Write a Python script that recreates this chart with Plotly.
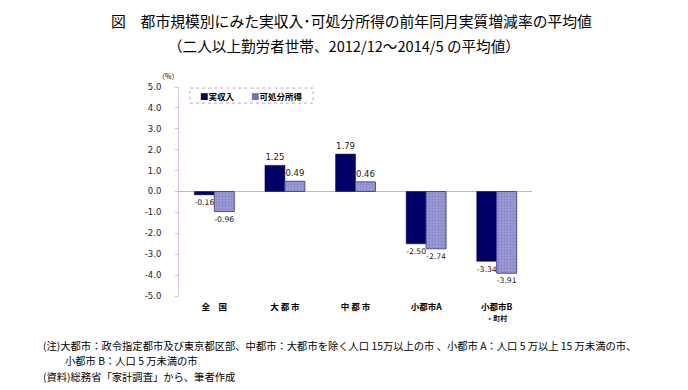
import plotly.graph_objects as go

categories = ["全　国", "大 都 市", "中 都 市", "小都市A", "小都市B<br><span style='font-size:7px'>・町村</span>"]
jisshunyu = [-0.16, 1.25, 1.79, -2.50, -3.34]
kashobun = [-0.96, 0.49, 0.46, -2.74, -3.91]
series_names = ["実収入", "可処分所得"]
y_ticks = [5, 4, 3, 2, 1, 0, -1, -2, -3, -4, -5]

FONT = "Noto Sans CJK JP"
NUMFONT = "Verdana, DejaVu Sans"
DARK = "#000066"
LIGHT = "#8585c8"

fig = go.Figure()
fig.add_trace(go.Bar(
    x=categories, y=jisshunyu, name=series_names[0],
    marker=dict(color=DARK, line=dict(color="#000044", width=0.5)),
    text=[f"{v:.2f}" for v in jisshunyu], textposition="outside",
    textfont=dict(size=8.5, color="#222222", family=NUMFONT),
    cliponaxis=False, showlegend=False,
))
fig.add_trace(go.Bar(
    x=categories, y=kashobun, name=series_names[1],
    marker=dict(color=LIGHT, line=dict(color="#4a4aa0", width=1),
                pattern=dict(shape=".", fgcolor="#6a6ab0", bgcolor="#9a9ad4", size=3, solidity=0.3)),
    text=[f"{v:.2f}" for v in kashobun], textposition="outside",
    textfont=dict(size=8.5, color="#222222", family=NUMFONT),
    cliponaxis=False, showlegend=False,
))

legend_text = (f"<span style='color:{DARK}'>■</span>{series_names[0]}"
               f"　　<span style='color:#7070b8'>■</span>{series_names[1]}")

fig.update_layout(
    width=688, height=390,
    margin=dict(l=179, r=156, t=87, b=94),
    paper_bgcolor="white", plot_bgcolor="white",
    barmode="group", bargap=0.435, bargroupgap=0,
    font=dict(family=FONT, color="#000000"),
    showlegend=False,
    xaxis=dict(
        type="category", showline=False, ticks="", showgrid=False,
        tickfont=dict(size=8.5, family=FONT, color="#000000", weight="bold"),
        ticklabelstandoff=4,
    ),
    yaxis=dict(
        range=[-5, 5], tickvals=y_ticks, ticktext=[f"{v:.1f}" for v in y_ticks],
        tickfont=dict(size=8.5, family=NUMFONT, color="#222222"),
        showgrid=False, zeroline=True, zerolinecolor="#bbbbbb", zerolinewidth=1,
        showline=True, linecolor="#d8c0d8", linewidth=1,
        ticks="outside", ticklen=3, tickcolor="#d8c0d8", ticklabelstandoff=12,
    ),
    shapes=[dict(type="rect", xref="paper", yref="paper",
                 x0=0.031, x1=0.380, y0=0.923, y1=0.995,
                 line=dict(color="#c8a0c8", width=1, dash="dot"))],
    annotations=[
        dict(text=legend_text, xref="paper", yref="paper", x=0.205, y=0.959,
             xanchor="center", yanchor="middle", showarrow=False,
             font=dict(size=8.5, family=FONT, weight="bold")),
        dict(text="図　都市規模別にみた実収入･可処分所得の前年同月実質増減率の平均値",
             xref="paper", yref="paper", x=0.47, y=1.0, yshift=67, xshift=7,
             xanchor="center", yanchor="middle",
             showarrow=False, font=dict(size=14.8, family=FONT)),
        dict(text="（二人以上勤労者世帯、2012/12～2014/5 の平均値）",
             xref="paper", yref="paper", x=0.47, y=1.0, yshift=42, xshift=-1,
             xanchor="center", yanchor="middle",
             showarrow=False, font=dict(size=14.6, family=FONT)),
        dict(text="（%）", xref="paper", yref="paper", x=-0.03, y=1.0, yshift=11,
             xanchor="center", yanchor="middle", showarrow=False, font=dict(size=7, family=FONT)),
        dict(text="(注)大都市：政令指定都市及び東京都区部、中都市：大都市を除く人口 15万以上の市 、小都市 A：人口 5 万以上 15 万未満の市、",
             xref="paper", yref="paper", x=-0.39, y=0, yshift=-49, xanchor="left", yanchor="middle",
             showarrow=False, font=dict(size=10.3, family=FONT)),
        dict(text="小都市 B：人口 5 万未満の市",
             xref="paper", yref="paper", x=-0.33, y=0, yshift=-64, xanchor="left", yanchor="middle",
             showarrow=False, font=dict(size=10.3, family=FONT)),
        dict(text="(資料)総務省「家計調査」から、筆者作成",
             xref="paper", yref="paper", x=-0.39, y=0, yshift=-80, xanchor="left", yanchor="middle",
             showarrow=False, font=dict(size=10.3, family=FONT)),
    ],
)

fig.write_html("out.html", config={"displayModeBar": False},
               post_script="document.body.style.margin='0';")
